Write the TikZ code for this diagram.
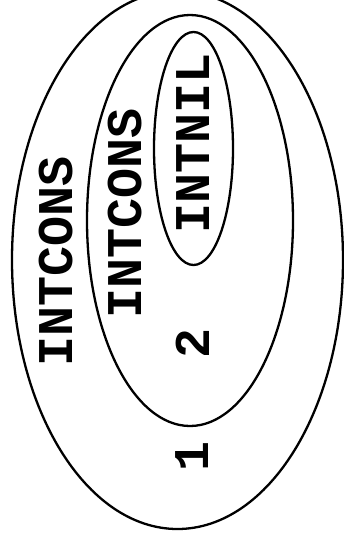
\documentclass[tikz,border=0pt]{standalone}
\usepackage{fontspec}
\setmonofont{Liberation Mono}
\usetikzlibrary{shapes.geometric}
\tikzset{
  set/.style={ellipse, draw=black, line width=2.3pt, inner sep=0pt},
  lbl/.style={rotate=90, inner sep=0pt, font=\fontsize{50}{50}\selectfont\ttfamily\bfseries},
}
\begin{document}
\begin{tikzpicture}[x=1pt,y=-1pt]
\useasboundingbox (0,0) rectangle (344,544);
\node[set, minimum width=331pt, minimum height=538pt] (outer) at (177.5,260) {};
\node[set, minimum width=206pt, minimum height=411pt] (middle) at (190,220.5) {};
\node[set, minimum width=79pt, minimum height=233pt] (inner) at (193.5,148.5) {};
\node[lbl] (intnil) at (193,143) {INTNIL};
\node[lbl] (midcons) at (125.5,213.5) {INTCONS};
\node[lbl] (outcons) at (56.5,261) {INTCONS};
\node[lbl] (two) at (192.5,343.5) {2};
\node[lbl] (one) at (192.5,456) {1};
\end{tikzpicture}
\end{document}
